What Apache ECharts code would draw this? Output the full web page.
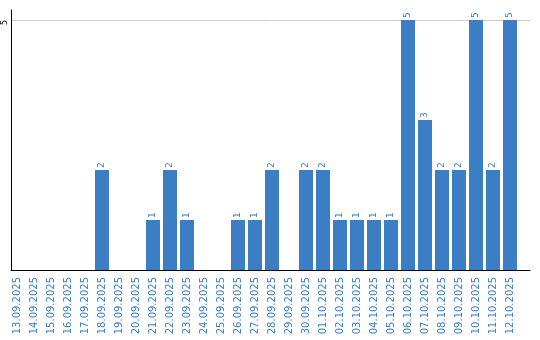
<!DOCTYPE html>
<html><head><meta charset="utf-8">
<script src="https://cdn.jsdelivr.net/npm/echarts@6/dist/echarts.min.js"></script>
<style>html,body{margin:0;padding:0;background:#fff}#c{width:540px;height:340px}</style>
</head><body><div id="c"></div>
<script>
const categories = ["13.09.2025","14.09.2025","15.09.2025","16.09.2025","17.09.2025","18.09.2025","19.09.2025","20.09.2025","21.09.2025","22.09.2025","23.09.2025","24.09.2025","25.09.2025","26.09.2025","27.09.2025","28.09.2025","29.09.2025","30.09.2025","01.10.2025","02.10.2025","03.10.2025","04.10.2025","05.10.2025","06.10.2025","07.10.2025","08.10.2025","09.10.2025","10.10.2025","11.10.2025","12.10.2025"];
const values = [0,0,0,0,0,2,0,0,1,2,1,0,0,1,1,2,0,2,2,1,1,1,1,5,3,2,2,5,2,5];
const yTicks = [5];

const BLUE = '#3b7ec3';
const chart = echarts.init(document.getElementById('c'), null, {renderer:'canvas'});
const idx = categories.map((_, i) => i);
chart.setOption({
  animation: false,
  grid: {left: 11, right: 10, top: 10, bottom: 70, outerBoundsMode: 'none'},
  xAxis: {
    type: 'value', min: -0.353, max: 30.176,
    axisLine: {show: true, onZero: false, lineStyle: {color: '#000', width: 1}},
    axisTick: {show: false, customValues: idx},
    splitLine: {show: false},
    axisLabel: {customValues: idx, rotate: 90, margin: 7, color: BLUE, fontSize: 10,
      fontFamily: 'DejaVu Sans', formatter: v => categories[Math.round(v)] || ''}
  },
  yAxis: {
    type: 'value', min: 0, max: 5.2,
    axisLine: {show: true, onZero: false, lineStyle: {color: '#000', width: 1}},
    axisTick: {show: false, customValues: yTicks},
    splitLine: {show: true, lineStyle: {color: '#cccccc', width: 1}},
    axisLabel: {customValues: yTicks, rotate: 90, margin: 2, color: '#000', fontSize: 8,
      align: 'right', verticalAlign: 'bottom', fontFamily: 'DejaVu Sans', lineHeight: 9}
  },
  series: [{
    type: 'bar', barWidth: 14,
    data: values.map((v, i) => [i, v]),
    itemStyle: {color: BLUE},
    label: {show: true, position: 'top', rotate: 90, align: 'left', verticalAlign: 'middle',
      distance: 2, fontSize: 9, color: BLUE, fontFamily: 'DejaVu Sans',
      formatter: p => p.value[1] ? String(p.value[1]) : ''}
  }]
});
</script></body></html>
